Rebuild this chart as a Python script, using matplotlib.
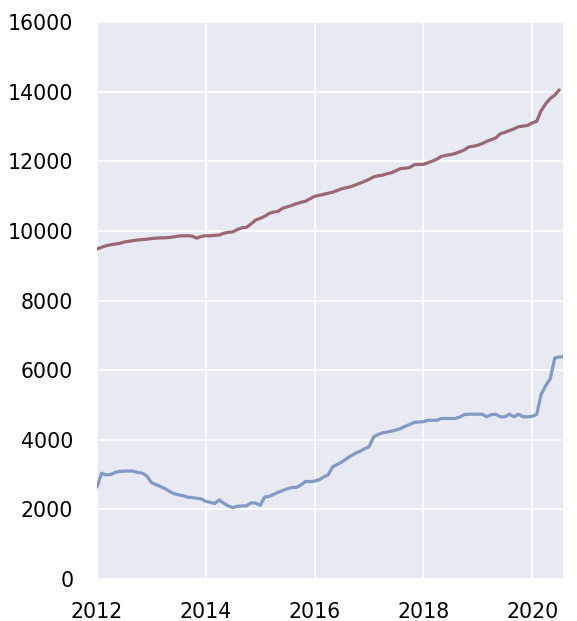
import numpy as np
import pandas as pd
import matplotlib
matplotlib.use('Agg')
import matplotlib.pyplot as plt
import matplotlib.dates as mdates

# monthly values, Jan 2012 onwards
upper_values = [
    9480, 9530, 9570, 9600, 9620, 9640, 9680, 9700, 9720, 9740, 9750, 9760,
    9780, 9790, 9800, 9800, 9810, 9830, 9850, 9860, 9860, 9850, 9790, 9840,
    9860, 9860, 9870, 9880, 9930, 9960, 9970, 10040, 10090, 10100, 10200, 10310,
    10360, 10420, 10500, 10540, 10560, 10650, 10690, 10730, 10780, 10820, 10850, 10920,
    10990, 11020, 11050, 11080, 11110, 11160, 11210, 11240, 11270, 11320, 11370, 11420,
    11480, 11550, 11580, 11600, 11640, 11670, 11730, 11790, 11800, 11820, 11900, 11910,
    11910, 11960, 12000, 12060, 12140, 12170, 12190, 12220, 12270, 12320, 12410, 12430,
    12460, 12510, 12570, 12620, 12670, 12790, 12830, 12880, 12930, 12990, 13010, 13030,
    13100, 13150, 13450, 13650, 13800, 13900, 14050,
]
lower_values = [
    2640, 3040, 2990, 3000, 3060, 3090, 3100, 3100, 3100, 3060, 3040, 2960,
    2770, 2710, 2660, 2600, 2520, 2450, 2420, 2390, 2350, 2340, 2320, 2300,
    2230, 2200, 2170, 2270, 2180, 2100, 2050, 2090, 2100, 2100, 2190, 2180,
    2120, 2360, 2370, 2430, 2490, 2540, 2590, 2630, 2630, 2700, 2800, 2800,
    2810, 2850, 2930, 2990, 3220, 3290, 3360, 3450, 3540, 3610, 3670, 3740,
    3800, 4080, 4150, 4200, 4220, 4250, 4280, 4320, 4390, 4440, 4500, 4510,
    4520, 4560, 4560, 4560, 4610, 4610, 4610, 4610, 4650, 4720, 4735, 4735,
    4735, 4735, 4660, 4720, 4735, 4660, 4660, 4735, 4660, 4735, 4660, 4660,
    4670, 4730, 5300, 5550, 5750, 6350, 6380, 6380,
]
year_ticks = [2012, 2014, 2016, 2018, 2020]
y_ticks = list(range(0, 16001, 2000))

upper_dates = pd.date_range('2012-01-01', periods=len(upper_values), freq='MS')
lower_dates = pd.date_range('2012-01-01', periods=len(lower_values), freq='MS')

plt.rcParams['font.family'] = ['DejaVu Sans']
fig = plt.figure(figsize=(5.77, 6.21), dpi=100)
ax = fig.add_axes([0.168, 0.0676, 0.8077, 0.897])
ax.set_facecolor('#e7eaf2')
for s in ax.spines.values():
    s.set_visible(False)

ax.plot(upper_dates, upper_values, color='#9a6872', lw=2.3, solid_capstyle='round')
ax.plot(lower_dates, lower_values, color='#8199c3', lw=2.3, solid_capstyle='round')

ax.set_xticks([pd.Timestamp(f'{y}-01-01') for y in year_ticks])
ax.xaxis.set_major_formatter(mdates.DateFormatter('%Y'))
ax.set_xlim(pd.Timestamp('2012-01-01'), pd.Timestamp('2020-07-26'))
ax.set_yticks(y_ticks)
ax.set_ylim(0, 16000)
ax.grid(True, color='white', lw=1.2)
ax.set_axisbelow(True)
ax.tick_params(axis='both', length=0, labelsize=14.8, colors='black')
ax.tick_params(axis='x', pad=16.5)
ax.tick_params(axis='y', pad=17)

fig.savefig('out.png', dpi=100)
